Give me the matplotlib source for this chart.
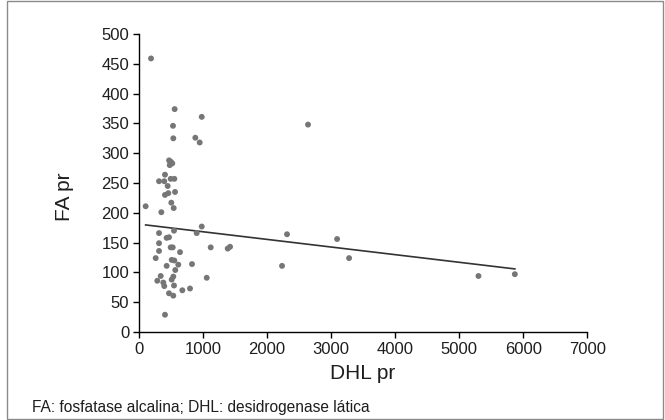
import numpy as np
import matplotlib
matplotlib.use("Agg")
import matplotlib.pyplot as plt
from matplotlib.patches import Rectangle

plt.rcParams['font.family'] = ['Liberation Sans', 'DejaVu Sans']

# DHL pr (x) vs FA pr (y)
dhl = [188, 557, 980, 531, 536, 880, 948,
       470, 500, 520, 480, 490,
       406, 313, 395, 495, 552, 448, 406, 458, 563, 505, 542, 104, 349,
       547, 980, 901, 313, 432, 469, 313, 495, 527, 1120, 1386, 1422,
       313, 641, 261, 511, 552, 614, 432, 828, 567, 339, 536, 511, 286,
       1058, 380, 395, 547, 677, 797, 469, 536, 406,
       2640, 2312, 2234, 3094, 3281, 5302, 5870]
fa = [459, 374, 361, 346, 325, 326, 318,
      288, 285, 283, 280, 286,
      264, 253, 253, 257, 257, 245, 230, 233, 235, 217, 208, 211, 201,
      170, 177, 166, 166, 158, 159, 149, 142, 142, 142, 140, 143,
      136, 134, 124, 121, 120, 113, 111, 114, 104, 94, 93, 88, 86,
      91, 83, 77, 78, 70, 73, 65, 61, 29,
      348, 164, 111, 156, 124, 94, 97]

# trend line (as drawn in the original)
fit_intercept = 181
fit_slope = -0.0128

txt = '#1e1e1e'
fig = plt.figure(figsize=(6.65, 4.2), dpi=100)
ax = fig.add_axes([0.209, 0.2095, 0.674, 0.7095])

ax.scatter(dhl, fa, s=18, color='#767676', edgecolors='none', zorder=3)
xl = np.array([min(dhl), max(dhl)])
ax.plot(xl, fit_intercept + fit_slope * xl, color='#333333', lw=1.2, zorder=2)

ax.set_xlim(0, 7000)
ax.set_ylim(0, 500)
ax.set_xticks(np.arange(0, 7001, 1000))
ax.set_yticks(np.arange(0, 501, 50))
for s in ['top', 'right']:
    ax.spines[s].set_visible(False)
for s in ['left', 'bottom']:
    ax.spines[s].set_linewidth(1.0)
ax.tick_params(axis='both', labelsize=12, length=4, width=1.0, pad=3,
               labelcolor=txt)
ax.set_xlabel('DHL pr', fontsize=15, color=txt)
ax.set_ylabel('FA pr', fontsize=15, color=txt)
ax.xaxis.set_label_coords(0.5, -0.107)
ax.yaxis.set_label_coords(-0.145, 0.453)

fig.text(32 / 665, 8 / 420, 'FA: fosfatase alcalina; DHL: desidrogenase lática',
         fontsize=11.2, color=txt, va='baseline')

fig.patches.append(Rectangle((7 / 665, 0.003), 1 - 9.5 / 665, 0.994,
                             transform=fig.transFigure,
                             fill=False, edgecolor='#8a8a8a', lw=1.0))

fig.savefig('out.png', dpi=100)
